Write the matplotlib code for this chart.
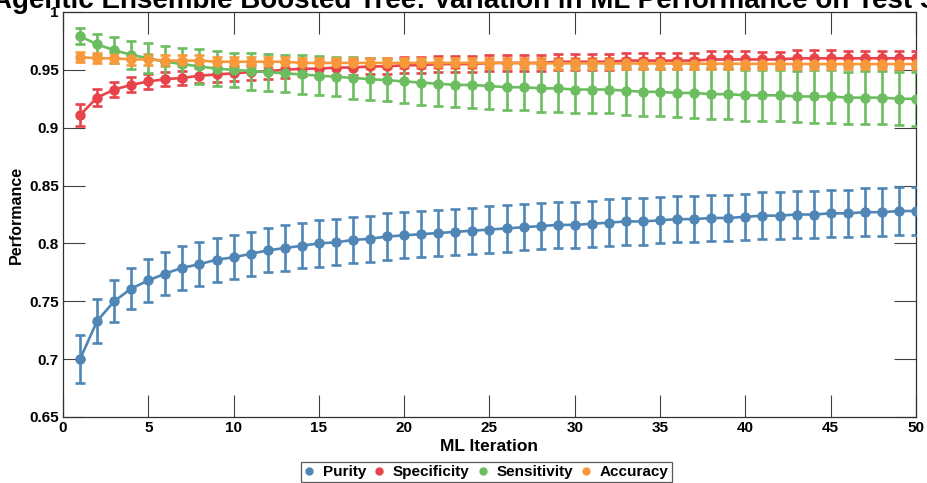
import matplotlib
matplotlib.use("Agg")
import matplotlib.pyplot as plt
from matplotlib.lines import Line2D
from matplotlib.ticker import FuncFormatter

plt.rcParams['font.family'] = ['Liberation Sans', 'DejaVu Sans']
plt.rcParams['font.weight'] = 'bold'

iterations = list(range(1, 51))

purity = [0.700, 0.733, 0.750, 0.761, 0.768, 0.774, 0.779, 0.782, 0.786, 0.788,
          0.791, 0.794, 0.796, 0.798, 0.800, 0.801, 0.803, 0.804, 0.806, 0.807,
          0.808, 0.809, 0.810, 0.811, 0.812, 0.813, 0.814, 0.815, 0.816, 0.816,
          0.817, 0.818, 0.819, 0.819, 0.820, 0.821, 0.821, 0.822, 0.822, 0.823,
          0.824, 0.824, 0.825, 0.825, 0.826, 0.826, 0.827, 0.827, 0.828, 0.828]
purity_err = [0.021, 0.019, 0.018, 0.018, 0.0185, 0.0185, 0.019, 0.019, 0.019, 0.019,
              0.019, 0.019, 0.0195, 0.0195, 0.020, 0.020, 0.020, 0.020, 0.020, 0.020,
              0.020, 0.020, 0.020, 0.020, 0.020, 0.020, 0.020, 0.020, 0.020, 0.020,
              0.020, 0.020, 0.020, 0.020, 0.020, 0.020, 0.020, 0.020, 0.020, 0.020,
              0.0205, 0.0205, 0.0205, 0.0205, 0.0205, 0.0205, 0.0205, 0.0205, 0.0205, 0.0205]

specificity = [0.911, 0.926, 0.933, 0.937, 0.940, 0.942, 0.943, 0.945, 0.946, 0.947,
               0.948, 0.949, 0.950, 0.951, 0.951, 0.952, 0.952, 0.953, 0.953, 0.954,
               0.954, 0.955, 0.955, 0.955, 0.956, 0.956, 0.956, 0.956, 0.957, 0.957,
               0.957, 0.957, 0.958, 0.958, 0.958, 0.958, 0.958, 0.959, 0.959, 0.959,
               0.959, 0.959, 0.960, 0.960, 0.960, 0.960, 0.960, 0.960, 0.960, 0.960]
specificity_err = [0.0095, 0.0072, 0.0067, 0.0065, 0.0063, 0.0063, 0.0063, 0.0064, 0.0065, 0.0065,
                   0.0066, 0.0066, 0.0067, 0.0067, 0.0068, 0.0068, 0.0068, 0.0069, 0.0069, 0.0069,
                   0.0069, 0.0069, 0.0070, 0.0070, 0.0070, 0.0070, 0.0070, 0.0070, 0.0070, 0.0070,
                   0.0070, 0.0070, 0.0070, 0.0070, 0.0070, 0.0070, 0.0070, 0.0070, 0.0070, 0.0070,
                   0.0068, 0.0068, 0.0068, 0.0068, 0.0068, 0.0067, 0.0067, 0.0067, 0.0067, 0.0067]

sensitivity = [0.979, 0.972, 0.967, 0.963, 0.960, 0.957, 0.955, 0.953, 0.951, 0.950,
               0.949, 0.948, 0.947, 0.946, 0.945, 0.944, 0.943, 0.942, 0.941, 0.940,
               0.939, 0.938, 0.937, 0.937, 0.936, 0.935, 0.935, 0.934, 0.934, 0.933,
               0.933, 0.933, 0.932, 0.931, 0.931, 0.930, 0.930, 0.929, 0.929, 0.928,
               0.928, 0.928, 0.927, 0.927, 0.927, 0.926, 0.926, 0.926, 0.925, 0.925]
sensitivity_err = [0.007, 0.009, 0.011, 0.012, 0.013, 0.014, 0.014, 0.015, 0.015, 0.015,
                   0.016, 0.016, 0.016, 0.017, 0.017, 0.017, 0.018, 0.018, 0.018, 0.019,
                   0.019, 0.019, 0.019, 0.020, 0.020, 0.020, 0.020, 0.020, 0.020, 0.020,
                   0.0205, 0.0205, 0.021, 0.021, 0.021, 0.021, 0.0215, 0.0215, 0.0215, 0.022,
                   0.022, 0.022, 0.022, 0.0225, 0.0225, 0.0225, 0.023, 0.023, 0.023, 0.0235]

accuracy = [0.961, 0.960, 0.960, 0.959, 0.959, 0.958, 0.958, 0.958, 0.957, 0.957,
            0.957, 0.957, 0.957, 0.956, 0.956, 0.956, 0.956, 0.956, 0.956, 0.956,
            0.956, 0.956, 0.956, 0.956, 0.956, 0.956, 0.9557, 0.9557, 0.9556, 0.9556,
            0.9556, 0.9556, 0.9555, 0.9555, 0.9555, 0.9554, 0.9554, 0.9553, 0.9553, 0.9552,
            0.9552, 0.9551, 0.9551, 0.955, 0.955, 0.955, 0.955, 0.955, 0.955, 0.955]
accuracy_err = [0.0045] * 50

series_names = ['Purity', 'Specificity', 'Sensitivity', 'Accuracy']
colors = ['#4F86B5', '#E8434B', '#6BBD5F', '#F7993A']

x_ticks = list(range(0, 51, 5))
y_ticks = [0.65, 0.7, 0.75, 0.8, 0.85, 0.9, 0.95, 1.0]

title = "Agentic Ensemble Boosted Tree: Variation in ML Performance on Test Set"

fig = plt.figure(figsize=(9.27, 4.83), dpi=100)
ax = fig.add_axes([63/927, 66/483, (916-63)/927, (417-12)/483])

data = [(purity, purity_err), (specificity, specificity_err),
        (sensitivity, sensitivity_err), (accuracy, accuracy_err)]
for (vals, errs), c in zip(data, colors):
    ax.errorbar(iterations, vals, yerr=errs, color=c, marker='o', markersize=6.5,
                linewidth=1.9, elinewidth=1.9, capsize=3.6, capthick=1.9, zorder=3)

ax.set_xlim(0, 50)
ax.set_ylim(0.65, 1.0)
ax.set_xticks(x_ticks)
ax.set_yticks(y_ticks)
ax.yaxis.set_major_formatter(FuncFormatter(lambda v, p: ('%g' % round(v, 4))))
ax.tick_params(direction='in', length=15.5, width=0.8, top=True, right=True,
               labelsize=11, color='#404040', pad=3)
for lab in ax.get_xticklabels() + ax.get_yticklabels():
    lab.set_fontweight('bold')
for s in ax.spines.values():
    s.set_color('#303030')
    s.set_linewidth(0.9)

ax.set_xlabel('ML Iteration', fontsize=12.5, fontweight='bold', labelpad=3)
ax.set_ylabel('Performance', fontsize=11.5, fontweight='bold', labelpad=4)

fig.text(478/927, 1 - 8.5/483, title,
         ha='center', va='baseline', fontsize=20, fontweight='bold')

handles = [Line2D([], [], linestyle='none', marker='o', markersize=5, color=c) for c in colors]
leg = fig.legend(handles, series_names, loc='upper center', ncol=4,
                 bbox_to_anchor=(486.5/927, 1 - 462/483), frameon=True, fancybox=False,
                 prop={'weight': 'bold', 'size': 11}, handlelength=0.6, handletextpad=0.6,
                 columnspacing=0.55, borderpad=0.2, borderaxespad=0.0)
leg.get_frame().set_edgecolor('#303030')
leg.get_frame().set_linewidth(0.9)

fig.savefig('out.png', dpi=100)
